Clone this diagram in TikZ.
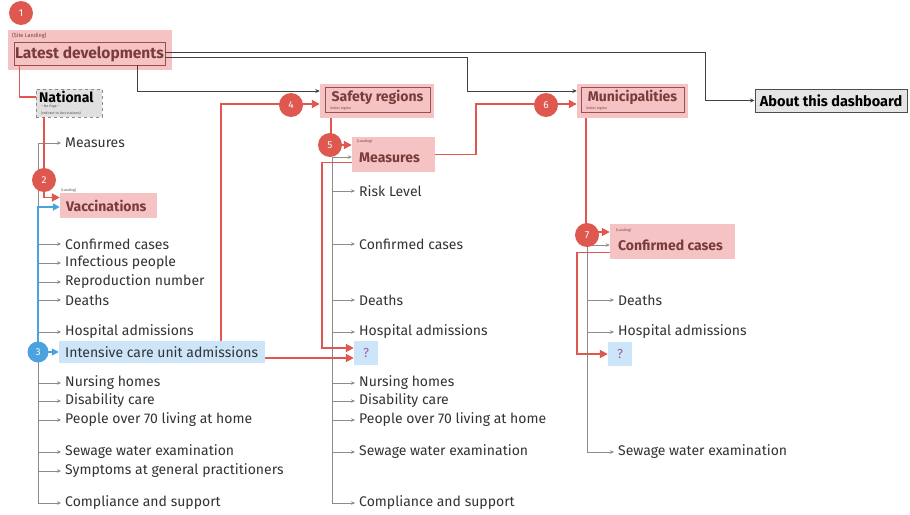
\documentclass[tikz,border=0pt]{standalone}
\usepackage{fontspec}
\setmainfont{Fira Sans}
\usetikzlibrary{arrows.meta,positioning}

\definecolor{pinkbg}{HTML}{F5C3C3}
\definecolor{pinkline}{HTML}{9A4E4E}
\definecolor{pinktext}{HTML}{7A3B3B}
\definecolor{redline}{HTML}{DE584F}
\definecolor{bluebg}{HTML}{CDE5F8}
\definecolor{blueline}{HTML}{4AA3DF}
\definecolor{greyline}{HTML}{8C8C8C}
\definecolor{itemtext}{HTML}{333333}
\definecolor{qmark}{HTML}{A0609A}

\tikzstyle{item}=[anchor=west,inner ysep=0pt,inner xsep=4pt,text=itemtext,font=\fontsize{14}{16}\selectfont]
\tikzstyle{pagebg}=[fill=pinkbg,inner sep=0pt]
\tikzstyle{pagebox}=[draw=pinkline,line width=0.9pt,inner sep=0pt]
\tikzstyle{title}=[text=pinktext,inner sep=0pt,font=\bfseries\fontsize{14}{16}\selectfont]
\tikzstyle{tiny}=[anchor=west,inner sep=0pt,text=pinktext,font=\fontsize{4.5}{5}\selectfont]
\tikzstyle{qbox}=[fill=bluebg,minimum width=24pt,minimum height=24pt,inner sep=0pt,text=qmark,font=\fontsize{13}{14}\selectfont]
\tikzstyle{badge}=[circle,fill=redline,text=white,minimum size=24pt,inner sep=0pt,font=\fontsize{10}{10}\selectfont]
\tikzstyle{branch}=[draw=greyline,line width=0.8pt,-{Stealth[length=4pt,width=3.5pt]}]
\tikzstyle{link}=[draw=black!75,line width=0.8pt,-{Stealth[length=4.5pt,width=4pt]}]
\tikzstyle{flow}=[draw=redline,line width=1.8pt,-{Triangle[length=8pt,width=8pt]}]
\tikzstyle{flowline}=[draw=redline,line width=1.8pt]
\tikzstyle{blueflow}=[draw=blueline,line width=1.6pt,-{Triangle[length=7pt,width=7pt]}]

\begin{document}
\begin{tikzpicture}[x=1pt,y=-1pt]
\useasboundingbox[fill=white] (0,0) rectangle (910,514);

% Pages
\node[pagebg,minimum width=164pt,minimum height=40pt] (latestbg) at (90,50) {};
\node[pagebox,minimum width=151pt,minimum height=23pt] (latest) at (89.5,53.5) {};
\node[title,font=\bfseries\fontsize{15.5}{17}\selectfont] (latesttxt) at (89.5,54) {Latest developments};
\node[tiny,font=\fontsize{5.5}{6}\selectfont] (sitelanding) at (12,36) {(Site Landing)};

\node[draw=greyline,dashed,fill=black!12,minimum width=66pt,minimum height=28pt,inner sep=0pt] (national) at (69,103) {};
\node[anchor=west,inner sep=0pt,font=\bfseries\fontsize{14}{16}\selectfont] (nationaltxt) at (39,97) {National};
\node[tiny,text=black!70,font=\fontsize{3.5}{4}\selectfont] (nopage) at (41,107) {-- No Page --};
\node[tiny,text=black!70,font=\fontsize{3.5}{4}\selectfont] (redirect) at (41,113) {(redirect to Vaccinations)};

\node[pagebg,minimum width=114pt,minimum height=34pt] (safetybg) at (377,101) {};
\node[pagebox,minimum width=105pt,minimum height=25pt] (safety) at (377.5,99.5) {};
\node[title] (safetytxt) at (377.5,97) {Safety regions};
\node[tiny,font=\fontsize{3.5}{4}\selectfont] (safetysel) at (330,109) {Select region};

\node[pagebg,minimum width=111pt,minimum height=34pt] (munibg) at (632.5,101) {};
\node[pagebox,minimum width=103pt,minimum height=25pt] (muni) at (632.5,99.5) {};
\node[title] (munitxt) at (632.5,97) {Municipalities};
\node[tiny,font=\fontsize{3.5}{4}\selectfont] (munisel) at (586,109) {Select region};

\node[draw=black!70,line width=1pt,fill=black!10,minimum width=152pt,minimum height=23pt,inner sep=0pt,font=\bfseries\fontsize{14.5}{16}\selectfont] (about) at (831,100.5) {About this dashboard};

% Landing pages
\node[pagebg,minimum width=97pt,minimum height=25pt] (vacc) at (108.5,205.5) {};
\node[title,anchor=west] (vacctxt) at (66,206) {Vaccinations};
\node[tiny,text=black!70,font=\fontsize{3.5}{4}\selectfont] (vacclanding) at (61,190) {(Landing)};

\node[pagebg,minimum width=83pt,minimum height=35pt] (smeasures) at (393.5,154.5) {};
\node[title,anchor=west] (smeasurestxt) at (359,158) {Measures};
\node[tiny,font=\fontsize{3.5}{4}\selectfont] (slanding) at (357,141) {(Landing)};

\node[pagebg,minimum width=125pt,minimum height=35pt] (mconf) at (672.5,241.5) {};
\node[title,anchor=west] (mconftxt) at (618,245) {Confirmed cases};
\node[tiny,font=\fontsize{3.5}{4}\selectfont] (mlanding) at (616,230) {(Landing)};

\node[fill=bluebg,minimum width=206pt,minimum height=22pt,inner sep=0pt] (icu) at (162,352) {};
\node[item] (icutxt) at (61,352) {Intensive care unit admissions};

\node[qbox] (sq) at (366,353) {?};
\node[qbox] (mq) at (620,354) {?};

% Items of each column
\foreach \name/\y/\txt in {nmeasures/143/Measures, nconfirmed/244/Confirmed cases,
    ninfectious/263/Infectious people, nrepro/282/Reproduction number, ndeaths/300/Deaths,
    nhospital/332/Hospital admissions, nnursing/383/Nursing homes, ndisability/401/Disability care,
    nolder/420/People over 70 living at home, nsewage/452/Sewage water examination,
    nsymptoms/471/Symptoms at general practitioners, ncompliance/503/Compliance and support}
    \node[item] (\name) at (61,\y) {\txt};
\foreach \name/\y/\txt in {srisk/191/Risk Level, sconfirmed/244/Confirmed cases, sdeaths/300/Deaths,
    shospital/332/Hospital admissions, snursing/383/Nursing homes, sdisability/401/Disability care,
    solder/420/People over 70 living at home, ssewage/452/Sewage water examination,
    scompliance/503/Compliance and support}
    \node[item] (\name) at (355,\y) {\txt};
\foreach \name/\y/\txt in {mdeaths/300/Deaths, mhospital/332/Hospital admissions,
    msewage/452/Sewage water examination}
    \node[item] (\name) at (614,\y) {\txt};

% Column lines
\coordinate (ncol) at (38,143);
\coordinate (scol) at (332,157);
\coordinate (mcol) at (587,245);
\draw[branch] (ncol) |- (ncompliance.west);
\foreach \name in {nmeasures, nconfirmed, ninfectious, nrepro, ndeaths, nhospital,
    nnursing, ndisability, nolder, nsewage, nsymptoms}
    \path[branch] (ncol |- \name.west) -- (\name.west);
\draw[branch] (scol) |- (scompliance.west);
\draw[branch] (scol) -- (scol -| smeasures.west);
\foreach \name in {srisk, sconfirmed, sdeaths, shospital, snursing, sdisability, solder, ssewage}
    \path[branch] (scol |- \name.west) -- (\name.west);
\draw[branch] (mcol) |- (msewage.west);
\draw[branch] (mcol) -- (mcol -| mconf.west);
\foreach \name in {mdeaths, mhospital}
    \path[branch] (mcol |- \name.west) -- (\name.west);

% Links from the landing page
\draw[link] ([xshift=124pt]latest.south west) |- ([yshift=10pt]safetybg.west);
\draw[link] ([yshift=1.5pt]latest.east) -| ([xshift=-49pt]about.west) -- (about.west);
\draw[link] ([yshift=-3.5pt]latest.east) -| ([xshift=-109pt,yshift=10pt]munibg.west) -- ([yshift=10pt]munibg.west);

% Red flows
\draw[flowline] ([xshift=6pt]latest.south west) |- ([yshift=6pt]national.west);
\draw[flow] ([xshift=8pt]national.south west) |- ([yshift=8pt]vacc.west);
\draw[flow] ([xshift=162pt]icu.north west) |- ([yshift=-3pt]safetybg.west);
\draw[flow] ([xshift=11pt]safetybg.south west) |- ([yshift=9.5pt]smeasures.west);
\draw[flow] (smeasures.east) -- ++(41,0) |- ([yshift=-3pt]munibg.west);
\draw[flow] ([xshift=9pt]munibg.south west) |- ([yshift=9.5pt]mconf.west);
\draw[flow] ([yshift=-8pt]smeasures.west) -- ++(-30,0) |- ([yshift=5pt]sq.west);
\draw[flow] ([yshift=-6pt]icu.east) -- ([yshift=-6pt]icu.east -| sq.west);
\draw[flow] ([yshift=-11pt]mconf.west) -- ++(-33,0) |- (mq.west);

% Blue flow
\draw[blueflow] (38,352) |- ([yshift=-1.5pt]vacc.west);
\draw[blueflow] (38,352) -- (icu.west);

% Badges
\node[badge] (b1) at (21,13) {1};
\node[badge] (b2) at (44,180) {2};
\node[badge,fill=blueline,minimum size=21pt] (b3) at (38,352) {3};
\node[badge] (b4) at (291,105) {4};
\node[badge] (b5) at (330,145) {5};
\node[badge] (b6) at (546,105) {6};
\node[badge] (b7) at (587,235) {7};
\end{tikzpicture}
\end{document}
